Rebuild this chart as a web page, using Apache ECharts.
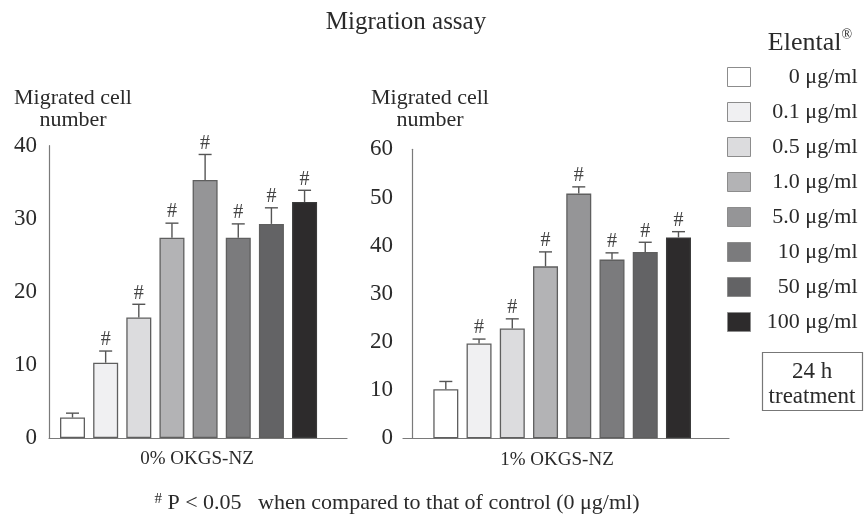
<!DOCTYPE html>
<html><head><meta charset="utf-8">
<script src="https://cdn.jsdelivr.net/npm/echarts@6/dist/echarts.min.js"></script>
<style>html,body{margin:0;padding:0;background:#fff}#c{width:865px;height:525px}</style>
</head><body><div id="c"></div>
<script>
const concentrations = ['0 μg/ml','0.1 μg/ml','0.5 μg/ml','1.0 μg/ml','5.0 μg/ml','10 μg/ml','50 μg/ml','100 μg/ml'];
const barColors = ['#ffffff','#f0f0f2','#dcdcde','#b3b3b5','#959597','#7b7b7d','#636365','#2d2b2c'];
const panelNames = ['0% OKGS-NZ','1% OKGS-NZ'];
const meansPanel0 = [2.8,10.3,16.5,27.4,35.3,27.4,29.3,32.3];
const errsPanel0 = [0.6,1.6,1.8,2.0,3.5,1.9,2.2,1.6];
const meansPanel1 = [10.2,19.7,22.8,35.7,50.8,37.1,38.7,41.7];
const errsPanel1 = [1.6,0.9,2.0,3.0,1.4,1.4,2.0,1.2];
const significant = [false,true,true,true,true,true,true,true];
const yMax = [40,60];
const yInterval = 10;

const FONT = 'Liberation Serif';
const TXT = '#2a2a2a';
const means = [meansPanel0, meansPanel1];
const errs = [errsPanel0, errsPanel1];

const grids = [
  {left:49, top:145.7, width:298, height:292.3},
  {left:403, top:149.3, width:326, height:289}
];
const xRange = [[0.291, 9.28],[-0.288, 9.52]];

const series = [];
[0,1].forEach(p => {
  concentrations.forEach((c,i) => {
    series.push({
      name: c, type:'bar', xAxisIndex:p, yAxisIndex:p,
      barWidth: 25, barGap:'-100%',
      data: [[i+1, means[p][i]]],
      itemStyle: {color: barColors[i], borderColor: i===7 ? '#3a3a3a' : '#5f5f5f', borderWidth: 1.3},
      silent: true
    });
  });
  series.push({
    type:'custom', xAxisIndex:p, yAxisIndex:p, z: 5, silent:true,
    data: means[p].map((m,i) => [i+1, m, errs[p][i], significant[i] ? 1 : 0]),
    renderItem: (params, api) => {
      const x = api.value(0), m = api.value(1), e = api.value(2), s = api.value(3);
      const a = api.coord([x, m]);
      const b = api.coord([x, m + e]);
      const st = {stroke:'#555', lineWidth:1.4};
      const ch = [
        {type:'line', shape:{x1:a[0], y1:a[1], x2:b[0], y2:b[1]}, style:st},
        {type:'line', shape:{x1:b[0]-6.5, y1:b[1], x2:b[0]+6.5, y2:b[1]}, style:st}
      ];
      if (s) ch.push({type:'text', style:{text:'#', x:b[0], y:b[1]-11, align:'center', verticalAlign:'middle', font:'20px "'+FONT+'"', fill:'#444'}});
      return {type:'group', children: ch};
    }
  });
});

const xAxes = [0,1].map(p => ({
  type:'value', gridIndex:p, min:xRange[p][0], max:xRange[p][1],
  axisLine:{show:true, lineStyle:{color:'#7a7a7a', width:1.2}},
  axisTick:{show:false}, axisLabel:{show:false}, splitLine:{show:false},
  name: panelNames[p], nameLocation:'middle', nameGap: 12,
  nameTextStyle:{fontFamily:FONT, fontSize:19, color:TXT, padding: p===1 ? [0,18,0,0] : [0,2,0,0]}
}));
const yAxes = [0,1].map(p => ({
  type:'value', gridIndex:p, min:0, max:yMax[p], interval:yInterval,
  axisLine:{show:true, lineStyle:{color:'#7a7a7a', width:1.2}},
  axisTick:{show:false}, splitLine:{show:false},
  axisLabel:{fontFamily:FONT, fontSize:23, color:TXT, margin: p===0 ? 12 : 10}
}));

const textEl = (t, x, y, size, align, extra) => Object.assign({
  type:'text', silent:true,
  style:{text:t, x:x, y:y, align:align||'center', verticalAlign:'middle', font: size+'px "'+FONT+'"', fill:TXT}
}, extra||{});

const option = {
  backgroundColor:'#fff',
  animation:false,
  grid: grids,
  xAxis: xAxes,
  yAxis: yAxes,
  legend: {
    data: concentrations, orient:'vertical', left:727, top:66, padding:0,
    itemWidth:23, itemHeight:19, itemGap:13, icon:'rect', selectedMode:false,
    itemStyle:{borderColor:'#8c8c8c', borderWidth:1},
    formatter: n => '{t|' + n + '}',
    textStyle:{rich:{t:{width:102, height:19, align:'right', fontFamily:FONT, fontSize:22, color:TXT, lineHeight:19}}}
  },
  series: series,
  graphic: [
    textEl('Migration assay', 406, 22, 25),
    textEl('Migrated cell', 73, 98, 22),
    textEl('number', 73, 120, 22),
    textEl('Migrated cell', 430, 98, 22),
    textEl('number', 430, 120, 22),
    {type:'text', silent:true, style:{text:'{a|Elental}{b|®}', x:810, y:43, align:'center', verticalAlign:'middle',
      rich:{a:{fontFamily:FONT, fontSize:26, fill:TXT, lineHeight:29}, b:{fontFamily:FONT, fontSize:14, fill:TXT, verticalAlign:'top', lineHeight:16}}}},
    {type:'rect', silent:true, shape:{x:762.5, y:352.5, width:100, height:58}, style:{fill:'#fff', stroke:'#777', lineWidth:1.2}},
    textEl('24 h', 812, 372, 23),
    textEl('treatment', 812, 397, 23),
    {type:'text', silent:true, style:{text:'{s|#} P < 0.05   when compared to that of control (0 μg/ml)', x:397, y:503, align:'center', verticalAlign:'middle',
      rich:{s:{fontFamily:FONT, fontSize:15, fill:TXT, verticalAlign:'top', lineHeight:16}}, font:'22px "'+FONT+'"', fill:TXT}}
  ]
};
const chart = echarts.init(document.getElementById('c'), null, {renderer:'canvas'});
chart.setOption(option);
</script>
</body></html>
